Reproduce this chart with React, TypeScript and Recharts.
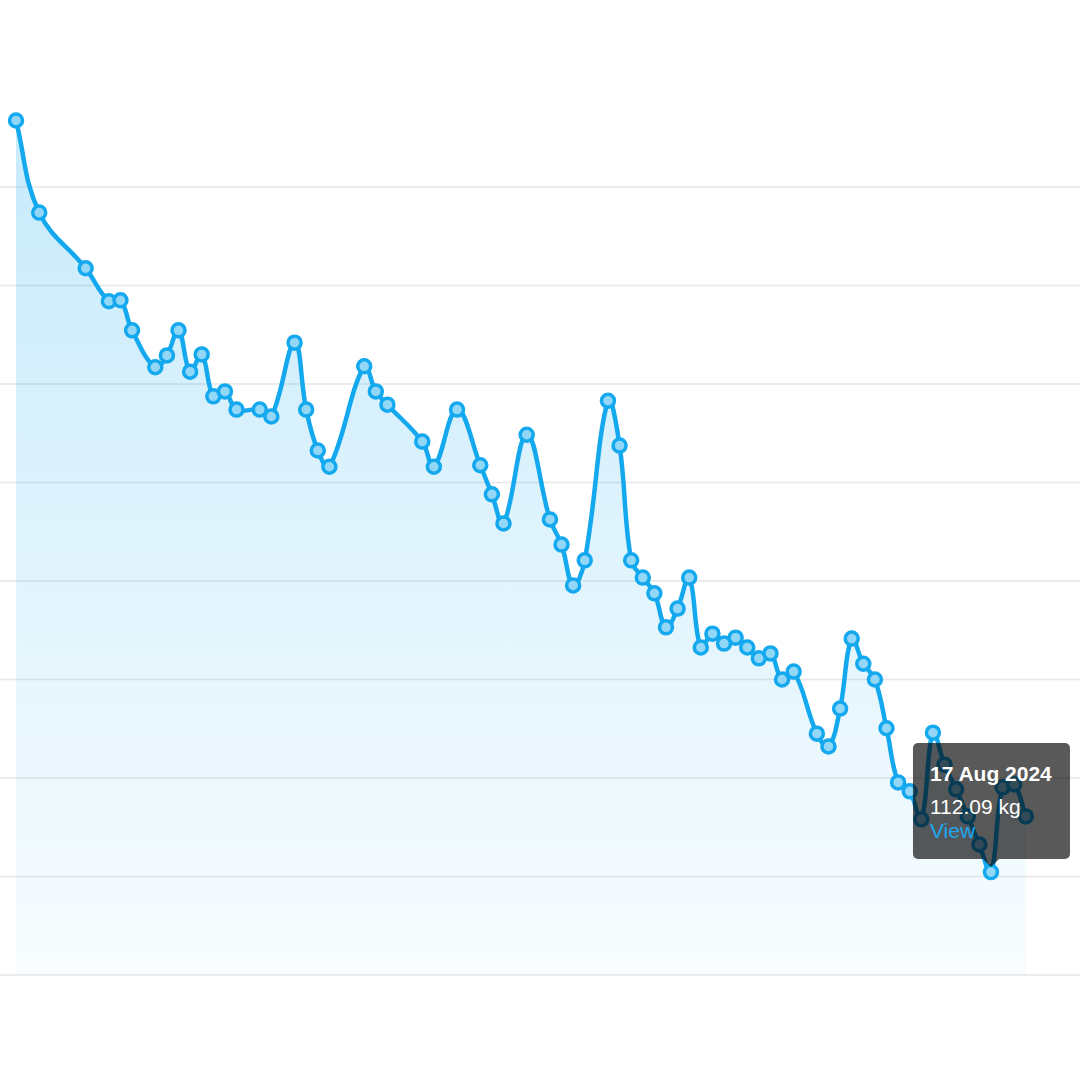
import { Area, AreaChart, CartesianGrid, ReferenceDot, XAxis, YAxis } from 'recharts';

// weigh-in dates (one entry per dot)
const dates = [
    '2024-05-25', '2024-05-27', '2024-05-31', '2024-06-02', '2024-06-03', '2024-06-04', '2024-06-06',
    '2024-06-07', '2024-06-08', '2024-06-09', '2024-06-10', '2024-06-11', '2024-06-12', '2024-06-13',
    '2024-06-15', '2024-06-16', '2024-06-18', '2024-06-19', '2024-06-20', '2024-06-21', '2024-06-24',
    '2024-06-25', '2024-06-26', '2024-06-29', '2024-06-30', '2024-07-02', '2024-07-04', '2024-07-05',
    '2024-07-06', '2024-07-08', '2024-07-10', '2024-07-11', '2024-07-12', '2024-07-13', '2024-07-15',
    '2024-07-16', '2024-07-17', '2024-07-18', '2024-07-19', '2024-07-20', '2024-07-21', '2024-07-22',
    '2024-07-23', '2024-07-24', '2024-07-25', '2024-07-26', '2024-07-27', '2024-07-28', '2024-07-29',
    '2024-07-30', '2024-07-31', '2024-08-02', '2024-08-03', '2024-08-04', '2024-08-05', '2024-08-06',
    '2024-08-07', '2024-08-08', '2024-08-09', '2024-08-10', '2024-08-11', '2024-08-12', '2024-08-13',
    '2024-08-14', '2024-08-15', '2024-08-16', '2024-08-17', '2024-08-18', '2024-08-19', '2024-08-20',
];

// weight in kg
const weights = [
    127.35, 125.48, 124.35, 123.68, 123.7, 123.09, 122.34, 122.58, 123.09, 122.25,
    122.6, 121.75, 121.85, 121.48, 121.48, 121.34, 122.84, 121.48, 120.65, 120.32,
    122.36, 121.85, 121.58, 120.83, 120.32, 121.48, 120.35, 119.76, 119.17, 120.97,
    119.25, 118.74, 117.91, 118.42, 121.66, 120.75, 118.42, 118.07, 117.75, 117.06,
    117.44, 118.07, 116.65, 116.93, 116.73, 116.85, 116.65, 116.43, 116.53, 116.0,
    116.16, 114.9, 114.64, 115.41, 116.83, 116.32, 116.0, 115.01, 113.91, 113.73,
    113.16, 114.92, 114.27, 113.77, 113.22, 112.65, 112.09, 113.81, 113.87, 113.22,
];

const yTicks = [110, 112, 114, 116, 118, 120, 122, 124, 126];
const yDomain = [110, 127.8];
const selectedDate = '2024-08-17';
const MONTHS = ['Jan', 'Feb', 'Mar', 'Apr', 'May', 'Jun', 'Jul', 'Aug', 'Sep', 'Oct', 'Nov', 'Dec'];

const DAY = 86400000;
const toTime = (d: string) => Date.parse(d + 'T00:00:00Z');
const fmtDate = (d: string) => {
    const dt = new Date(toTime(d));
    return `${dt.getUTCDate()} ${MONTHS[dt.getUTCMonth()]} ${dt.getUTCFullYear()}`;
};

const data = dates.map((d, i) => ({ t: toTime(d), kg: weights[i] }));
const tMin = data[0].t;
const tMax = data[data.length - 1].t;
const selIdx = dates.indexOf(selectedDate);

const LINE = '#14a9ee';
const FONT = '"Liberation Sans", Arial, Helvetica, sans-serif';

// chart.js style bezier spline (tension based), as a d3 curve factory
function tensionCurve(t: number) {
    return (ctx: any) => {
        let line = NaN;
        let xs: number[] = [];
        let ys: number[] = [];
        const ctrl = (i: number) => {
            const n = xs.length;
            const p = i > 0 ? i - 1 : i;
            const q = i < n - 1 ? i + 1 : i;
            const d01 = Math.hypot(xs[i] - xs[p], ys[i] - ys[p]);
            const d12 = Math.hypot(xs[q] - xs[i], ys[q] - ys[i]);
            let s01 = d01 / (d01 + d12);
            let s12 = d12 / (d01 + d12);
            if (isNaN(s01)) s01 = 0;
            if (isNaN(s12)) s12 = 0;
            const dx = xs[q] - xs[p];
            const dy = ys[q] - ys[p];
            return {
                px: xs[i] - t * s01 * dx,
                py: ys[i] - t * s01 * dy,
                nx: xs[i] + t * s12 * dx,
                ny: ys[i] + t * s12 * dy,
            };
        };
        return {
            areaStart() { line = 0; },
            areaEnd() { line = NaN; },
            lineStart() { xs = []; ys = []; },
            point(x: number, y: number) { xs.push(+x); ys.push(+y); },
            lineEnd() {
                const n = xs.length;
                if (n) {
                    if (line) ctx.lineTo(xs[0], ys[0]);
                    else ctx.moveTo(xs[0], ys[0]);
                    let prev = ctrl(0);
                    for (let i = 1; i < n; i++) {
                        const cur = ctrl(i);
                        ctx.bezierCurveTo(prev.nx, prev.ny, cur.px, cur.py, xs[i], ys[i]);
                        prev = cur;
                    }
                }
                if (line || (line !== 0 && n === 1)) ctx.closePath();
                line = 1 - line;
            },
        };
    };
}

function TooltipBox({ cx, cy }: any) {
    const bg = 'rgba(0,0,0,0.65)';
    return (
        <g>
            <rect x={cx - 78} y={cy - 129} width={157} height={116} rx={5} fill={bg} />
            <path d={`M${cx - 8},${cy - 13} L${cx},${cy - 5} L${cx + 8},${cy - 13} Z`} fill={bg} />
            <text x={cx - 61} y={cy - 91} fill="#fff" fontSize={21} fontWeight="bold" fontFamily={FONT}>
                {fmtDate(selectedDate)}
            </text>
            <text x={cx - 61} y={cy - 58} fill="#fff" fontSize={21} fontFamily={FONT}>
                {weights[selIdx].toFixed(2)} kg
            </text>
            <text x={cx - 61} y={cy - 34} fill="#1ea7ee" fontSize={21} fontFamily={FONT}>
                View
            </text>
        </g>
    );
}

// grid rows only at the kg ticks (no extra line along the top edge of the plot)
const gridRows = ({ offset }: any) =>
    yTicks.map((v) => offset.top + (offset.height * (yDomain[1] - v)) / (yDomain[1] - yDomain[0]));

export default function App() {
    return (
        <div style={{ position: 'absolute', left: 0, top: 0, width: 1080, height: 1080, background: '#fff' }}>
            <AreaChart width={1080} height={1080} data={data} margin={{ top: 98.35, right: 0, bottom: 105, left: 0 }}>
                <defs>
                    <linearGradient id="kgFill" x1="0" y1="0" x2="0" y2="1">
                        <stop offset="0%" stopColor={LINE} stopOpacity={0.24} />
                        <stop offset="100%" stopColor={LINE} stopOpacity={0.03} />
                    </linearGradient>
                </defs>
                <CartesianGrid
                    vertical={false}
                    stroke="#e6e6e6"
                    strokeWidth={1.5}
                    horizontalCoordinatesGenerator={gridRows}
                />
                <XAxis
                    hide
                    type="number"
                    dataKey="t"
                    domain={[tMin - 1.38 * DAY, tMax + 4.67 * DAY]}
                    allowDataOverflow
                />
                <YAxis hide type="number" domain={yDomain} ticks={yTicks} allowDataOverflow />
                <Area
                    type={tensionCurve(0.4) as any}
                    dataKey="kg"
                    stroke={LINE}
                    strokeWidth={4.5}
                    fill="url(#kgFill)"
                    fillOpacity={1}
                    dot={{ r: 6.5, fill: '#93d7f7', stroke: LINE, strokeWidth: 3.5 }}
                    activeDot={false}
                    isAnimationActive={false}
                />
                <ReferenceDot x={toTime(selectedDate)} y={weights[selIdx]} shape={TooltipBox} />
            </AreaChart>
        </div>
    );
}
